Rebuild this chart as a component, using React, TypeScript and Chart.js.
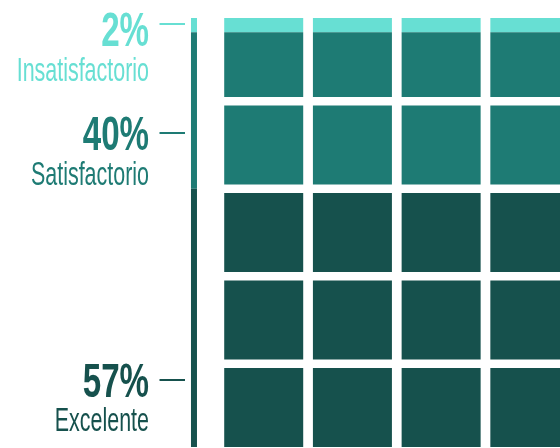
import React, { useEffect, useRef } from 'react';
import { Chart, registerables } from 'chart.js';

Chart.register(...registerables);

// ---- data ----
const categories = ['Insatisfactorio', 'Satisfactorio', 'Excelente'];
const percents = [2, 40, 57];
// share of the waffle area (top to bottom) filled by each category, as drawn
const fillShares = [4.2, 35.8, 60];
const columns = [1, 2, 3, 4, 5];
const rowCount = 5;

// ---- style / layout ----
const colors = ['#67dfd3', '#1e7b74', '#16514d'];
const GAP = 0.97; // half of the white gap between rows, in value units
const BAR_X = 0.214; // position of the thin summary bar on the x scale
const CELL_WIDTH = 79;
const BAR_WIDTH = 6;
const FONT = '"Liberation Sans", Arial, sans-serif';
const NUM_SCALE = 0.69;
const NAME_SCALE = 0.65;
const TEXT_RIGHT = 149;
const numberBaselines = [45.7, 149.7, 396.7];
const nameBaselines = [80.7, 185, 430.7];
const tickYs = [24, 133, 380];

type Band = { i: number; lo: number; hi: number };

function buildBands(): Band[] {
  const bands: Band[] = [];
  let start = 0;
  for (let i = categories.length - 1; i >= 0; i--) {
    bands.push({ i, lo: start, hi: start + fillShares[i] });
    start += fillShares[i];
  }
  return bands;
}

function buildDatasets() {
  const bands = buildBands();
  const rowSize = 100 / rowCount;
  const datasets: any[] = [];
  const common = { stack: 'all', inflateAmount: 0, borderWidth: 0 };
  bands.forEach((b) => {
    datasets.push({
      ...common,
      label: categories[b.i] + ' (barra)',
      data: [{ x: BAR_X, y: [Math.max(b.lo, GAP), Math.min(b.hi, 100 - GAP)] }],
      backgroundColor: colors[b.i],
      barThickness: BAR_WIDTH,
    });
  });
  for (let r = 0; r < rowCount; r++) {
    const cellLo = r * rowSize + GAP;
    const cellHi = (r + 1) * rowSize - GAP;
    bands.forEach((b) => {
      const a = Math.max(b.lo, cellLo);
      const c = Math.min(b.hi, cellHi);
      if (c > a) {
        datasets.push({
          ...common,
          label: categories[b.i] + ' fila ' + (r + 1),
          data: columns.map((x) => ({ x, y: [a, c] })),
          backgroundColor: colors[b.i],
          barThickness: CELL_WIDTH,
        });
      }
    });
  }
  return datasets;
}

const labelPlugin = {
  id: 'sideLabels',
  afterDraw(chart: any) {
    const ctx: CanvasRenderingContext2D = chart.ctx;
    categories.forEach((name, i) => {
      ctx.save();
      ctx.fillStyle = colors[i];
      ctx.textAlign = 'right';
      ctx.textBaseline = 'alphabetic';
      ctx.font = `bold 48px ${FONT}`;
      ctx.translate(TEXT_RIGHT, numberBaselines[i]);
      ctx.scale(NUM_SCALE, 1);
      ctx.fillText(`${percents[i]}%`, 0, 0);
      ctx.restore();

      ctx.save();
      ctx.fillStyle = colors[i];
      ctx.textAlign = 'right';
      ctx.textBaseline = 'alphabetic';
      ctx.font = `normal 33px ${FONT}`;
      ctx.translate(TEXT_RIGHT, nameBaselines[i]);
      ctx.scale(NAME_SCALE, 1);
      ctx.fillText(name, 0, 0);
      ctx.restore();

      ctx.save();
      ctx.strokeStyle = colors[i];
      ctx.lineWidth = 2;
      ctx.beginPath();
      ctx.moveTo(159.5, tickYs[i]);
      ctx.lineTo(185, tickYs[i]);
      ctx.stroke();
      ctx.restore();
    });
  },
};

export default function App() {
  const ref = useRef<HTMLCanvasElement>(null);
  useEffect(() => {
    if (!ref.current) return;
    const chart = new Chart(ref.current, {
      type: 'bar',
      data: { datasets: buildDatasets() },
      options: {
        animation: false,
        responsive: false,
        layout: { padding: { left: 175, right: 0, top: 18, bottom: 1 } },
        scales: {
          x: { type: 'linear', min: 0, max: 4.34, offset: false, display: false },
          y: { type: 'linear', min: GAP, max: 100 - GAP, stacked: false, display: false },
        },
        plugins: {
          legend: { display: false },
          tooltip: { enabled: false },
        },
      },
      plugins: [labelPlugin],
    } as any);
    return () => chart.destroy();
  }, []);
  return (
    <div style={{ position: 'absolute', left: 0, top: 0, width: 560, height: 448, overflow: 'hidden', background: '#ffffff' }}>
      <canvas ref={ref} width={560} height={448} style={{ display: 'block', width: 560, height: 448 }} />
    </div>
  );
}
